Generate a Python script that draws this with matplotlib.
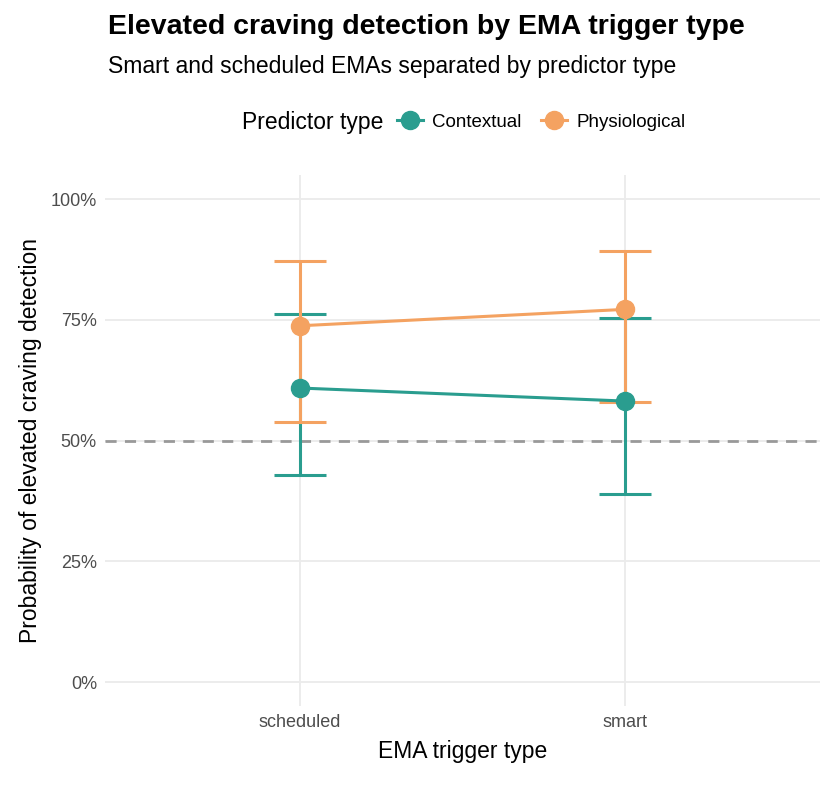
import matplotlib
matplotlib.use("Agg")
import matplotlib.pyplot as plt
from matplotlib.lines import Line2D
from matplotlib.offsetbox import HPacker

plt.rcParams['font.family'] = ['Liberation Sans', 'DejaVu Sans']

categories = ["scheduled", "smart"]
ctx_est = [0.609, 0.582]
ctx_lo = [0.429, 0.389]
ctx_hi = [0.762, 0.755]
phy_est = [0.738, 0.772]
phy_lo = [0.538, 0.580]
phy_hi = [0.873, 0.893]

teal = "#2a9d8f"
orange = "#f4a261"

fig = plt.figure(figsize=(8.35, 7.89), dpi=100)
ax = fig.add_axes([0.126, 0.105, 0.856, 0.673])
x = [0, 1]
for est, lo, hi, c in [(ctx_est, ctx_lo, ctx_hi, teal), (phy_est, phy_lo, phy_hi, orange)]:
    yerr = [[e - l for e, l in zip(est, lo)], [h - e for e, h in zip(est, hi)]]
    ax.errorbar(x, est, yerr=yerr, color=c, lw=2.2, capsize=19, capthick=2.2,
                marker="o", markersize=13, zorder=3)

ax.axhline(0.5, color="#999999", ls=(0, (4, 3)), lw=2, zorder=2)
ax.set_xlim(-0.6, 1.6)
ax.set_ylim(-0.05, 1.05)
ax.set_xticks(x)
ax.set_xticklabels(categories)
ax.set_yticks([0, 0.25, 0.5, 0.75, 1.0])
ax.set_yticklabels(["0%", "25%", "50%", "75%", "100%"])
ax.tick_params(length=0, labelsize=13, colors="#4d4d4d", pad=6)
for s in ax.spines.values():
    s.set_visible(False)
ax.grid(True, color="#ebebeb", lw=1.3, zorder=0)
ax.set_axisbelow(True)
ax.set_xlabel("EMA trigger type", fontsize=16.5, labelpad=6)
ax.set_ylabel("Probability of elevated craving detection", fontsize=16.5, labelpad=6)

fig.text(0.129, 0.966, "Elevated craving detection by EMA trigger type", fontsize=20.5,
         fontweight="bold", va="center")
fig.text(0.129, 0.916, "Smart and scheduled EMAs separated by predictor type", fontsize=16.5,
         va="center")

handles = [Line2D([0], [0], color=teal, marker="o", markersize=13, lw=2.2),
           Line2D([0], [0], color=orange, marker="o", markersize=13, lw=2.2)]
leg = fig.legend(handles, ["Contextual", "Physiological"], loc="center",
                 bbox_to_anchor=(0.555, 0.845), ncol=2, frameon=False, fontsize=13.5,
                 title="Predictor type", title_fontsize=16.5, handlelength=1.4,
                 columnspacing=1.0, handletextpad=0.5)
box = leg._legend_box
box._children = [HPacker(children=list(box.get_children()), align="center", pad=0, sep=10)]
fig.savefig("out.png", dpi=100)
